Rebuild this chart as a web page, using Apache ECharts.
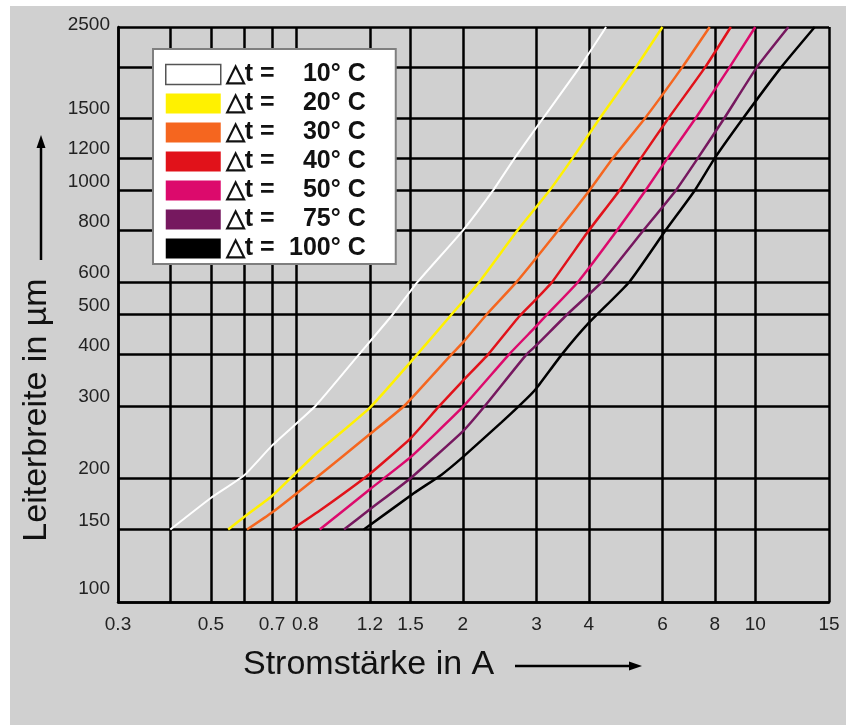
<!DOCTYPE html>
<html>
<head>
<meta charset="utf-8">
<script src="https://cdn.jsdelivr.net/npm/echarts@6/dist/echarts.min.js"></script>
<style>
  html, body { margin: 0; padding: 0; background: #fff; }
  #chart { position: absolute; left: 10px; top: 6px; width: 836px; height: 719px; }
</style>
</head>
<body>
<div id="chart"></div>
<script>
// Leiterbreite vs. Stromstärke, log-log nomogram
const xTicks = [0.3, 0.4, 0.5, 0.6, 0.7, 0.8, 1.2, 1.5, 2, 3, 4, 6, 8, 10, 15];
const xLabels = [0.3, 0.5, 0.7, 0.8, 1.2, 1.5, 2, 3, 4, 6, 8, 10, 15];
const yTicks = [100, 150, 200, 300, 400, 500, 600, 800, 1000, 1200, 1500, 2000, 2500];
const yLabels = [100, 150, 200, 300, 400, 500, 600, 800, 1000, 1200, 1500, 2500];

const tempNames = ['10° C', '20° C', '30° C', '40° C', '50° C', '75° C', '100° C'];
const colors = ['#ffffff', '#fff100', '#f5661f', '#e1121a', '#dc0a6c', '#76185f', '#000000'];

// [current A, width µm]
const dt10 = [[0.4,150],[0.5,179],[0.6,203],[0.7,240],[0.89,300],[1.13,400],[1.36,500],[1.56,600],[2,800],[2.36,1000],[2.66,1200],[3.11,1500],[3.81,2000],[4.4,2500]];
const dt20 = [[0.55,150],[0.62,165],[0.7,181],[0.89,229],[1.2,297],[1.5,383],[1.88,500],[2.19,600],[2.7,800],[3.22,1000],[3.66,1200],[4.25,1500],[5.19,2000],[6,2500]];
const dt30 = [[0.61,150],[0.7,165],[0.89,200],[1.2,256],[1.45,300],[1.88,400],[2,427],[2.28,500],[2.69,600],[3.38,800],[4.01,1000],[4.57,1200],[5.45,1500],[6.7,2000],[7.78,2500]];
const dt40 = [[0.78,150],[0.92,168],[1.2,205],[1.5,250],[1.75,298],[2,345],[2.3,400],[2.73,495],[3,546],[3.27,600],[4,800],[4.73,1000],[5.33,1200],[6.2,1500],[7.6,2000],[8.74,2500]];
const dt50 = [[0.91,150],[1.2,188],[1.5,225],[2,298],[2.58,400],[3,469],[3.18,500],[3.77,600],[4.67,800],[5.46,1000],[6.17,1200],[7.2,1500],[8.69,2000],[10,2500]];
const dt75 = [[1.04,150],[1.2,168],[1.5,200],[2,260],[2.26,300],[2.84,400],[3,421],[3.55,500],[4.3,600],[5.4,800],[6.45,1000],[7.29,1200],[8.43,1500],[10.1,2000],[12,2500]];
const dt100 = [[1.16,150],[1.53,184],[1.78,204],[2,225],[2.47,273],[2.83,311],[3,331],[3.45,400],[4,477],[5,600],[6.1,800],[7.16,1000],[8,1200],[9.35,1500],[11.55,2000],[13.87,2500]];

const curves = [dt10, dt20, dt30, dt40, dt50, dt75, dt100];

const FONT = '"Liberation Sans", Arial, sans-serif';
const num = v => String(parseFloat((+v).toPrecision(6)));
const grid = { color: '#000', width: 2.5 };

// y labels sit just above their grid line
const yFmt = v => {
  const s = num(v);
  return s === '2500' ? `{t|${s}}` : s === '100' ? `{b|${s}}` : `{n|${s}}`;
};
// 0.8 sits close to 0.7 on a true log scale: nudge its text right a little
const xFmt = v => { const s = num(v); return s === '0.8' ? `{r|${s}}` : s; };

const chart = echarts.init(document.getElementById('chart'), null, { renderer: 'canvas' });
chart.setOption({
  backgroundColor: '#d0d0d0',
  animation: false,
  grid: { left: 108, top: 21, width: 711, height: 575 },
  xAxis: {
    type: 'log', logBase: 10, min: 0.3, max: 15,
    axisLine: { show: true, lineStyle: grid },
    axisTick: { show: false, customValues: xTicks },
    splitLine: { show: true, showMinLine: true, showMaxLine: true, lineStyle: grid },
    axisLabel: { customValues: xLabels, formatter: xFmt, fontSize: 19, color: '#222',
      fontFamily: FONT, margin: 13, rich: { r: { padding: [0, 0, 0, 18] } } }
  },
  yAxis: {
    type: 'log', logBase: 10, min: 100, max: 2500,
    axisLine: { show: true, lineStyle: grid },
    axisTick: { show: false, customValues: yTicks },
    splitLine: { show: true, showMinLine: true, showMaxLine: true, lineStyle: grid },
    axisLabel: { customValues: yLabels, formatter: yFmt, fontSize: 19, color: '#222',
      fontFamily: FONT, margin: 8, verticalAlign: 'middle',
      rich: {
        n: { padding: [0, 0, 18, 0] },
        b: { padding: [0, 0, 26, 0] },
        t: { padding: [0, 0, 4, 0] }
      } }
  },
  legend: {
    orient: 'vertical', left: 143, top: 43, icon: 'rect',
    itemWidth: 55, itemHeight: 20, itemGap: 4, selectedMode: false,
    padding: [13, 30, 3, 12],
    backgroundColor: '#fff', borderColor: '#7f7f7f', borderWidth: 2,
    itemStyle: { borderWidth: 0 },
    data: tempNames.map((n, i) => i === 0
      ? { name: n, itemStyle: { borderColor: '#555', borderWidth: 1.5 } }
      : { name: n }),
    formatter: n => `{a|△t =}{b|${n}}`,
    textStyle: {
      rich: {
        a: { width: 55, fontSize: 25, fontWeight: 'bold', fontFamily: FONT, color: '#111', lineHeight: 26 },
        b: { width: 85, align: 'right', fontSize: 25, fontWeight: 'bold', fontFamily: FONT, color: '#111', lineHeight: 26 }
      }
    }
  },
  series: curves.map((d, i) => ({
    name: tempNames[i], type: 'line', data: d, symbol: 'none', smooth: 0.15,
    color: colors[i],
    itemStyle: { color: colors[i] },
    lineStyle: { color: colors[i], width: i === 0 ? 2 : 2.5 }
  })),
  graphic: [
    { type: 'text', x: 233, y: 659,
      style: { text: 'Stromstärke in A', font: '34px ' + FONT, fill: '#111', verticalAlign: 'middle' } },
    { type: 'line', shape: { x1: 505, y1: 660, x2: 621, y2: 660 }, style: { stroke: '#000', lineWidth: 2.5 } },
    { type: 'polygon', shape: { points: [[632, 660], [619, 655.5], [619, 664.5]] }, style: { fill: '#000' } },
    { type: 'text', x: 27, y: 404, rotation: Math.PI / 2,
      style: { text: 'Leiterbreite in µm', font: '34px ' + FONT, fill: '#111', align: 'center', verticalAlign: 'middle' } },
    { type: 'line', shape: { x1: 31, y1: 254, x2: 31, y2: 140 }, style: { stroke: '#000', lineWidth: 2.5 } },
    { type: 'polygon', shape: { points: [[31, 129], [26.5, 142], [35.5, 142]] }, style: { fill: '#000' } }
  ]
});
</script>
</body>
</html>
